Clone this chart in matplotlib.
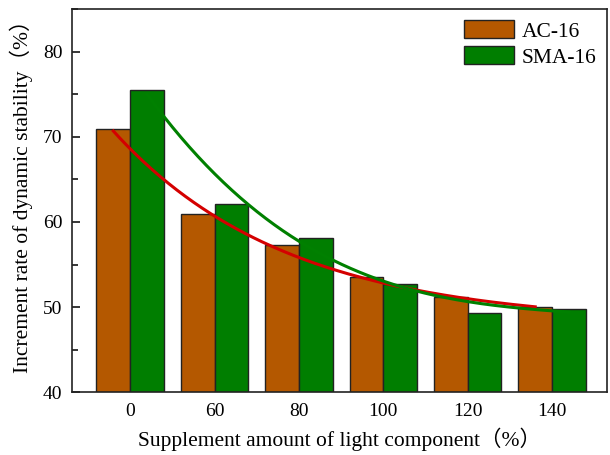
import numpy as np
import matplotlib
matplotlib.use('Agg')
import matplotlib.pyplot as plt
from matplotlib.ticker import MultipleLocator

categories = ['0', '60', '80', '100', '120', '140']
ac16 = [70.9, 60.9, 57.3, 53.5, 51.2, 50.0]
sma16 = [75.5, 62.1, 58.1, 52.7, 49.3, 49.8]

plt.rcParams['font.family'] = ['Liberation Serif', 'Noto Sans CJK SC']


def expfit(x, y):
    # y = A*exp(-x/t) + y0, grid search on y0 and linear fit on log
    x = np.asarray(x, float)
    y = np.asarray(y, float)
    best = None
    for y0 in np.linspace(min(y) - 30, min(y) - 0.05, 3000):
        k, b = np.polyfit(x, np.log(y - y0), 1)
        pred = np.exp(b + k * x) + y0
        err = np.sum((pred - y) ** 2)
        if best is None or err < best[0]:
            best = (err, y0, k, b)
    _, y0, k, b = best
    return lambda xx: np.exp(b + k * xx) + y0


x = np.arange(len(categories))
w = 0.4

fig = plt.figure(figsize=(6.1, 4.55), dpi=100)
ax = fig.add_axes([0.118, 0.138, 0.877, 0.842])

ax.bar(x - w / 2, ac16, w, color='#B45800', edgecolor='#222222', linewidth=1.0,
       label='AC-16', zorder=2)
ax.bar(x + w / 2, sma16, w, color='#007E00', edgecolor='#222222', linewidth=1.0,
       label='SMA-16', zorder=2)

f1 = expfit(x - w / 2, ac16)
f2 = np.poly1d(np.polyfit(x + w / 2, sma16, 3))
xs1 = np.linspace(-w / 2, len(x) - 1 - w / 2, 200)
xs2 = np.linspace(w / 2, len(x) - 1 + w / 2, 200)
ax.plot(xs1, f1(xs1), color='#D40000', lw=2.2, zorder=3)
ax.plot(xs2, f2(xs2), color='#008000', lw=2.2, zorder=3)

ax.set_xlim(-0.69, 5.65)
ax.set_ylim(40, 85)
ax.set_yticks([40, 50, 60, 70, 80])
ax.yaxis.set_minor_locator(MultipleLocator(5))
ax.set_xticks(x)
ax.set_xticklabels(categories)
ax.tick_params(axis='y', which='major', direction='in', length=6, width=1.1,
               labelsize=14, pad=7)
ax.tick_params(axis='y', which='minor', direction='in', length=4, width=1.1)
ax.tick_params(axis='x', which='major', length=0, labelsize=14, pad=8)
for s in ax.spines.values():
    s.set_linewidth(1.2)
    s.set_color('#222222')

ax.set_xlabel('Supplement amount of light component（%）', fontsize=15.5, labelpad=5)
ax.set_ylabel('Increment rate of dynamic stability（%）', fontsize=15.5)
ax.yaxis.set_label_coords(-0.072, 0.525)

ax.legend(loc='upper right', frameon=False, fontsize=15.5, handlelength=2.3,
          handleheight=0.95, labelspacing=0.2, borderaxespad=0.1,
          handletextpad=0.35)

fig.savefig('out.png', dpi=100)
